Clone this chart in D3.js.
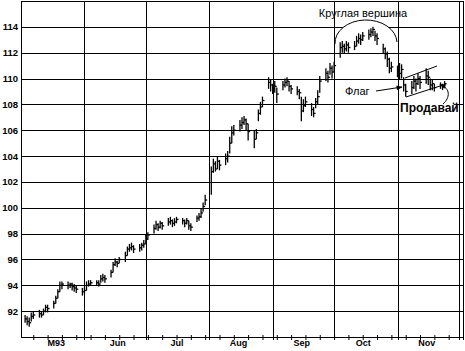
<!DOCTYPE html>
<html>
<head>
<meta charset="utf-8">
<script src="https://cdn.jsdelivr.net/npm/d3@7"></script>
<style>
  body { margin: 0; background: #fff; }
  svg { display: block; }
</style>
</head>
<body>
<svg id="chart"></svg>
<script>
// daily bars, one row per trading week (Mon..Fri), May 3 - Nov 24 1993
const closes = [
  91.4, 91.2, 91.1, 91.6, 91.7,
  91.8, 91.7, 92.0, 92.3, 92.2,
  92.6, 93.0, 93.5, 94.0, 94.1,
  94.0, 94.1, 93.9, 93.8, 93.7,
  93.5, 93.6, 94.0, 94.1, 94.2,
  94.2, 94.1, 94.5, 94.6, 94.5,
  95.0, 95.6, 95.8, 95.7, 96.0,
  96.3, 96.8, 96.9, 97.0, 96.8,
  96.9, 97.1, 97.2, 97.6, 97.9,
  98.4, 98.7, 98.5, 98.8, 98.6,
  98.9, 99.0, 98.8, 98.9, 99.1,
  99.0, 98.8, 99.0, 98.6, 98.5,
  99.2, 99.3, 99.6, 100.1, 100.6,
  102.8, 103.4, 103.0, 103.6, 103.3,
  103.8, 104.0, 105.0, 105.8, 106.0,
  106.4, 106.6, 106.8, 106.5, 105.9,
  105.3, 105.8, 107.3, 107.8, 108.3,
  109.7, 109.5, 109.2, 109.4, 108.8,
  109.5, 109.7, 109.8, 109.4, 109.2,
  109.0, 108.9, 107.5, 107.9, 108.2,
  107.6, 107.3, 108.2, 108.6, 109.8,
  110.4, 110.1, 110.8, 110.5, 111.0,
  112.4, 112.5, 112.3, 112.6, 112.4,
  112.5, 112.9, 113.1, 113.0, 113.3,
  113.4, 113.6, 113.8, 113.3, 113.1,
  112.3, 111.9, 111.5, 110.8, 110.9,
  110.6, 110.4, 110.7, 109.5, 109.0,
  109.3, 109.8, 109.6, 110.0, 109.7,
  110.2, 110.1, 109.5, 109.6, 109.3,
  109.5, 109.4, 109.6
];
const highs = [
  91.7, 91.6, 91.5, 91.9, 92.0,
  92.1, 92.0, 92.2, 92.5, 92.5,
  92.8, 93.2, 93.7, 94.3, 94.3,
  94.3, 94.2, 94.2, 94.1, 94.0,
  93.8, 93.9, 94.3, 94.4, 94.4,
  94.4, 94.4, 94.8, 94.9, 94.8,
  95.2, 95.8, 96.1, 95.9, 96.2,
  96.6, 97.0, 97.2, 97.3, 97.1,
  97.2, 97.3, 97.5, 97.9, 98.1,
  98.7, 99.0, 98.8, 99.0, 98.9,
  99.2, 99.3, 99.1, 99.2, 99.3,
  99.2, 99.1, 99.2, 99.0, 98.8,
  99.4, 99.6, 99.9, 100.4, 101.0,
  103.2, 103.8, 103.6, 104.0, 103.7,
  104.2, 104.4, 105.5, 106.3, 106.4,
  106.8, 107.0, 107.1, 106.9, 106.5,
  106.0, 106.1, 107.6, 108.2, 108.6,
  110.1, 109.9, 109.6, 109.8, 109.3,
  109.8, 110.0, 110.1, 109.8, 109.5,
  109.4, 109.2, 108.6, 108.4, 108.6,
  108.1, 107.8, 108.5, 109.1, 110.2,
  110.8, 110.6, 111.2, 111.0, 111.3,
  112.8, 112.9, 112.7, 112.9, 112.8,
  112.9, 113.3, 113.5, 113.4, 113.6,
  113.8, 113.9, 114.0, 113.7, 113.5,
  112.7, 112.4, 112.1, 111.6, 111.3,
  111.0, 111.2, 111.1, 110.1, 109.6,
  109.8, 110.2, 110.0, 110.4, 110.2,
  110.8, 110.6, 110.0, 109.9, 109.6,
  109.7, 109.6, 109.8
];
const lows = [
  91.1, 90.9, 90.8, 91.2, 91.4,
  91.5, 91.5, 91.7, 91.9, 91.9,
  92.2, 92.6, 93.0, 93.5, 93.7,
  93.7, 93.8, 93.6, 93.5, 93.4,
  93.2, 93.3, 93.6, 93.9, 94.0,
  94.0, 93.9, 94.2, 94.3, 94.2,
  94.6, 95.0, 95.5, 95.4, 95.7,
  95.8, 96.3, 96.6, 96.7, 96.5,
  96.6, 96.7, 96.9, 97.2, 97.5,
  98.0, 98.3, 98.2, 98.4, 98.3,
  98.6, 98.7, 98.5, 98.6, 98.8,
  98.7, 98.5, 98.7, 98.3, 98.2,
  98.9, 99.0, 99.2, 99.7, 100.2,
  101.0, 102.7, 102.8, 103.0, 102.9,
  103.3, 103.5, 104.2, 105.0, 105.6,
  105.9, 106.1, 106.4, 106.0, 105.2,
  104.6, 105.3, 106.7, 107.2, 107.8,
  109.2, 109.0, 108.8, 108.9, 108.1,
  109.1, 109.3, 109.4, 109.0, 108.8,
  108.7, 108.4, 106.7, 107.4, 107.8,
  107.1, 107.0, 107.7, 108.0, 108.9,
  109.8, 109.7, 110.3, 110.0, 110.5,
  111.6, 112.0, 111.9, 112.1, 112.0,
  112.2, 112.5, 112.7, 112.6, 112.9,
  113.0, 113.2, 113.3, 112.9, 112.6,
  111.9, 111.5, 110.9, 110.4, 110.5,
  110.1, 109.9, 110.0, 109.0, 108.6,
  108.8, 109.2, 109.0, 109.5, 109.2,
  109.6, 109.5, 109.1, 109.1, 109.0,
  109.2, 109.1, 109.3
];

const yTicks = [92, 94, 96, 98, 100, 102, 104, 106, 108, 110, 112, 114];
const monthStarts = ["1993-06-01", "1993-07-01", "1993-08-01", "1993-09-01", "1993-10-01", "1993-11-01", "1993-12-01"];
const monthLabels = ["M93", "Jun", "Jul", "Aug", "Sep", "Oct", "Nov"];
const labelDates = ["1993-05-18", "1993-06-17", "1993-07-16", "1993-08-15", "1993-09-15", "1993-10-15", "1993-11-15"];

const width = 465, height = 351;
const plot = { left: 21, right: 463, top: 1, bottom: 337 };
const parse = d3.timeParse("%Y-%m-%d");

const svg = d3.select("#chart").attr("width", width).attr("height", height);

const x = d3.scaleTime()
  .domain([new Date(1993, 4, 1), new Date(1993, 11, 3)])
  .range([plot.left, plot.right]);
const y = d3.scaleLinear().domain([90, 116]).range([plot.bottom, plot.top]);

// trading days
const days = d3.timeDay.range(new Date(1993, 4, 3), new Date(1993, 10, 25))
  .filter(d => d.getDay() > 0 && d.getDay() < 6);
const bars = closes.map((c, i) => ({ date: days[i], close: c, high: highs[i], low: lows[i] }));

// horizontal grid
svg.append("g")
  .attr("transform", `translate(${plot.left},0)`)
  .call(d3.axisLeft(y).tickValues(yTicks).tickSize(-(plot.right - plot.left)).tickFormat(""))
  .call(g => g.select(".domain").remove())
  .call(g => g.selectAll("line").attr("stroke", "#000").attr("shape-rendering", "crispEdges"));

// month lines
svg.append("g")
  .attr("transform", `translate(0,${plot.bottom + 3})`)
  .call(d3.axisBottom(x).tickValues(monthStarts.map(parse)).tickSize(-(plot.bottom + 3 - plot.top)).tickFormat(""))
  .call(g => g.select(".domain").remove())
  .call(g => g.selectAll("line").attr("stroke", "#000").attr("shape-rendering", "crispEdges"));

// frame
svg.append("rect")
  .attr("x", plot.left).attr("y", plot.top)
  .attr("width", plot.right - plot.left).attr("height", plot.bottom - plot.top)
  .attr("fill", "none").attr("stroke", "#000").attr("shape-rendering", "crispEdges");

// weekly ticks on the bottom axis
svg.append("g")
  .attr("transform", `translate(0,${plot.bottom - 2})`)
  .call(d3.axisBottom(x).ticks(d3.timeFriday.every(1)).tickSize(5).tickFormat(""))
  .call(g => g.select(".domain").remove())
  .call(g => g.selectAll("line").attr("stroke", "#000"));

// month labels
svg.append("g")
  .attr("transform", `translate(0,${plot.bottom})`)
  .call(d3.axisBottom(x).tickValues(labelDates.map(parse)).tickSize(0).tickPadding(3)
    .tickFormat((d, i) => monthLabels[i]))
  .call(g => g.select(".domain").remove())
  .call(g => g.selectAll("text")
    .attr("font-family", "Liberation Sans, Arial, sans-serif")
    .attr("font-size", 9).attr("font-weight", "bold").attr("fill", "#000"));

// y labels
svg.append("g")
  .attr("transform", `translate(${plot.left},0)`)
  .call(d3.axisLeft(y).tickValues(yTicks).tickSize(0).tickPadding(3))
  .call(g => g.select(".domain").remove())
  .call(g => g.selectAll("text")
    .attr("font-family", "Liberation Sans, Arial, sans-serif")
    .attr("font-size", 9.5).attr("font-weight", "bold").attr("fill", "#000"));

// white patch inside the rounded-top arc and behind the sell label
const arcPath = "M335,44 A31,23 0 0 1 397,42";
svg.append("path").attr("d", arcPath + " Z").attr("fill", "#fff");
svg.append("rect").attr("x", 399).attr("y", 102).attr("width", 57).attr("height", 13).attr("fill", "#fff");

// OHLC bars (high-low with close tick)
const gb = svg.append("g").attr("stroke", "#000").attr("stroke-width", 1.3);
gb.selectAll("line.hl").data(bars).join("line").attr("class", "hl")
  .attr("x1", d => x(d.date)).attr("x2", d => x(d.date))
  .attr("y1", d => y(d.high)).attr("y2", d => y(d.low));
gb.selectAll("line.cl").data(bars).join("line").attr("class", "cl")
  .attr("x1", d => x(d.date)).attr("x2", d => x(d.date) + 2)
  .attr("y1", d => y(d.close)).attr("y2", d => y(d.close));

// annotations
const defs = svg.append("defs");
defs.append("marker").attr("id", "arr").attr("viewBox", "0 0 10 10")
  .attr("refX", 9).attr("refY", 5).attr("markerWidth", 7).attr("markerHeight", 6)
  .attr("orient", "auto")
  .append("path").attr("d", "M0,1 L10,5 L0,9 Z").attr("fill", "#000");

const ann = svg.append("g").attr("fill", "none").attr("stroke", "#000").attr("stroke-width", 1);
ann.append("path").attr("d", arcPath);
ann.append("line").attr("x1", 405).attr("y1", 78).attr("x2", 437).attr("y2", 66);
ann.append("line").attr("x1", 406).attr("y1", 97).attr("x2", 440).attr("y2", 86);
ann.append("line").attr("x1", 376).attr("y1", 91).attr("x2", 402).attr("y2", 87)
  .attr("marker-end", "url(#arr)");
ann.append("path").attr("d", "M443,104 C450,98 451,88 440,85")
  .attr("marker-end", "url(#arr)");

const txt = svg.append("g").attr("font-family", "Liberation Sans, Arial, sans-serif").attr("fill", "#000");
txt.append("text").attr("x", 363).attr("y", 17).attr("text-anchor", "middle")
  .attr("font-size", 11).text("Круглая вершина");
txt.append("text").attr("x", 345).attr("y", 95).attr("font-size", 11).text("Флаг");
txt.append("text").attr("x", 400).attr("y", 112).attr("font-size", 12)
  .attr("font-weight", "bold").text("Продавай");
</script>
</body>
</html>
